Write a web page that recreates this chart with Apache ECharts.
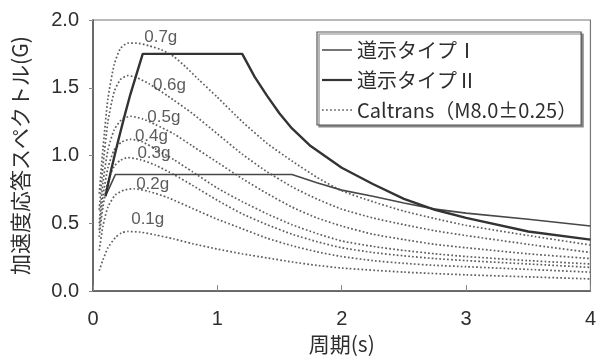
<!DOCTYPE html>
<html>
<head>
<meta charset="utf-8">
<script src="https://cdn.jsdelivr.net/npm/echarts@6/dist/echarts.min.js"></script>
<style>
  html, body { margin: 0; padding: 0; background: #fff; }
  #chart { width: 599px; height: 360px; }
</style>
</head>
<body>
<div id="chart"></div>
<script>
// Acceleration response spectra: 道示 design spectra and Caltrans ARS curves
// Period (s) vs spectral acceleration (G)

const xTicks = [0, 1, 2, 3, 4];
const yTicks = [0.0, 0.5, 1.0, 1.5, 2.0];

const nameTypeI = '道示タイプⅠ';
const nameTypeII = '道示タイプⅡ';
const nameCaltrans = 'Caltrans（M8.0±0.25）';

// 道示 Type I (thin solid)
const typeI = [
  [0.1, 0.70], [0.14, 0.78], [0.18, 0.86], [1.6, 0.86], [1.8, 0.80],
  [2.0, 0.745], [2.25, 0.70], [2.5, 0.65], [2.75, 0.605], [3.0, 0.575],
  [3.5, 0.53], [4.0, 0.48]
];

// 道示 Type II (thick solid)
const typeII = [
  [0.1, 0.70], [0.15, 0.91], [0.2, 1.10], [0.25, 1.28], [0.3, 1.45],
  [0.35, 1.60], [0.4, 1.75], [1.2, 1.75], [1.3, 1.58], [1.4, 1.44],
  [1.5, 1.31], [1.6, 1.20], [1.75, 1.07], [2.0, 0.91], [2.25, 0.79],
  [2.5, 0.68], [2.75, 0.60], [3.0, 0.54], [3.5, 0.44], [4.0, 0.38]
];

// Caltrans ARS curves, one per peak ground acceleration level
const g01 = [[0.05,0.15],[0.08,0.23],[0.12,0.32],[0.18,0.395],[0.23,0.43],[0.28,0.44],[0.38,0.435],[0.5,0.415],[0.65,0.385],[0.8,0.35],[1.0,0.31],[1.2,0.275],[1.4,0.245],[1.6,0.215],[1.8,0.19],[2.0,0.17],[2.5,0.14],[3.0,0.12],[3.5,0.105],[4.0,0.09]];
const g02 = [[0.05,0.30],[0.08,0.48],[0.12,0.62],[0.18,0.71],[0.25,0.745],[0.33,0.755],[0.45,0.735],[0.6,0.69],[0.8,0.61],[1.0,0.53],[1.2,0.46],[1.4,0.39],[1.6,0.335],[1.8,0.29],[2.0,0.255],[2.25,0.225],[2.5,0.205],[2.75,0.19],[3.0,0.18],[3.5,0.16],[4.0,0.14]];
const g03 = [[0.05,0.40],[0.08,0.62],[0.12,0.81],[0.17,0.92],[0.22,0.965],[0.28,0.985],[0.38,0.97],[0.5,0.93],[0.65,0.86],[0.8,0.78],[1.0,0.67],[1.2,0.57],[1.4,0.49],[1.6,0.42],[1.8,0.365],[2.0,0.32],[2.25,0.285],[2.5,0.26],[2.75,0.24],[3.0,0.225],[3.5,0.20],[4.0,0.175]];
const g04 = [[0.05,0.45],[0.08,0.70],[0.12,0.91],[0.17,1.04],[0.23,1.10],[0.3,1.12],[0.4,1.10],[0.5,1.05],[0.65,0.97],[0.8,0.88],[1.0,0.76],[1.2,0.66],[1.4,0.57],[1.6,0.49],[1.8,0.425],[2.0,0.37],[2.25,0.33],[2.5,0.30],[2.75,0.275],[3.0,0.255],[3.5,0.225],[4.0,0.20]];
const g05 = [[0.05,0.50],[0.08,0.80],[0.12,1.04],[0.17,1.19],[0.23,1.265],[0.3,1.29],[0.4,1.27],[0.5,1.23],[0.65,1.16],[0.8,1.07],[1.0,0.95],[1.2,0.83],[1.4,0.72],[1.6,0.62],[1.8,0.54],[2.0,0.48],[2.25,0.42],[2.5,0.38],[2.75,0.345],[3.0,0.32],[3.5,0.275],[4.0,0.24]];
const g06 = [[0.05,0.60],[0.08,0.92],[0.12,1.25],[0.17,1.47],[0.22,1.56],[0.28,1.59],[0.35,1.575],[0.45,1.53],[0.6,1.44],[0.8,1.31],[1.0,1.16],[1.2,1.01],[1.4,0.88],[1.6,0.77],[1.8,0.68],[2.0,0.605],[2.25,0.54],[2.5,0.49],[2.75,0.445],[3.0,0.41],[3.5,0.345],[4.0,0.285]];
const g07 = [[0.05,0.72],[0.08,1.05],[0.12,1.42],[0.17,1.67],[0.22,1.79],[0.28,1.83],[0.35,1.83],[0.45,1.81],[0.55,1.78],[0.65,1.73],[0.75,1.65],[0.85,1.56],[1.0,1.43],[1.2,1.25],[1.4,1.09],[1.6,0.96],[1.8,0.84],[2.0,0.74],[2.25,0.66],[2.5,0.59],[2.75,0.535],[3.0,0.485],[3.5,0.41],[4.0,0.34]];

const caltransCurves = [g01, g02, g03, g04, g05, g06, g07];

// curve labels and where they sit (period, acceleration)
const gLabels = ['0.1g', '0.2g', '0.3g', '0.4g', '0.5g', '0.6g', '0.7g'];
const gLabelT = [0.44, 0.48, 0.49, 0.47, 0.57, 0.615, 0.545];
const gLabelS = [0.53, 0.79, 1.02, 1.14, 1.28, 1.52, 1.87];

const latin = '"Liberation Sans", Arial, sans-serif';
const cjk = '"Noto Sans CJK JP", "Noto Sans", sans-serif';

const dotColor = '#5e5e5e';
const thinColor = '#474747';
const thickColor = '#333';

// legend samples: short solid strokes and a row of dots
const solidIcon = h => 'path://M0,0h30v' + h + 'h-30z';
let dotIconPath = 'path://';
for (let i = 0; i < 8; i++) dotIconPath += 'M' + (i * 4) + ',0h1.7v1.7h-1.7z';

const dotted = {
  type: 'line',
  name: nameCaltrans,
  showSymbol: false,
  symbol: 'none',
  smooth: 0.2,
  lineStyle: { color: dotColor, width: 1.7, type: [1.7, 2.2] },
  itemStyle: { color: dotColor },
  z: 2,
  silent: true
};

const series = caltransCurves.map(d => Object.assign({}, dotted, { data: d }));

series.push({
  type: 'line',
  name: nameTypeI,
  data: typeI,
  symbol: 'none',
  lineStyle: { color: thinColor, width: 1.6 },
  itemStyle: { color: thinColor },
  z: 3
});
series.push({
  type: 'line',
  name: nameTypeII,
  data: typeII,
  symbol: 'none',
  lineStyle: { color: thickColor, width: 2.4 },
  itemStyle: { color: thickColor },
  z: 4
});
series.push({
  type: 'scatter',
  data: gLabels.map((t, i) => ({ value: [gLabelT[i], gLabelS[i]], name: t })),
  symbolSize: 0,
  silent: true,
  z: 5,
  label: {
    show: true,
    position: 'inside',
    formatter: p => p.name,
    fontFamily: latin,
    fontSize: 17,
    color: '#333'
  }
});

const chart = echarts.init(document.getElementById('chart'), null, { renderer: 'canvas' });
chart.setOption({
  animation: false,
  backgroundColor: '#fff',
  grid: {
    left: 93, right: 7, top: 20, bottom: 64,
    show: true, borderColor: '#777', borderWidth: 1.2, backgroundColor: 'transparent'
  },
  legend: {
    data: [
      { name: nameTypeI, icon: solidIcon(1.5) },
      { name: nameTypeII, icon: solidIcon(2.2) },
      { name: nameCaltrans, icon: dotIconPath }
    ],
    orient: 'vertical',
    left: 317, top: 32,
    itemWidth: 30, itemHeight: 14, itemGap: 10,
    padding: [8, 4, 5, 5],
    backgroundColor: '#fff',
    borderColor: '#555', borderWidth: 1.2,
    shadowColor: '#888', shadowOffsetX: 2, shadowOffsetY: 2, shadowBlur: 0,
    selectedMode: false,
    itemStyle: { borderWidth: 0 },
    textStyle: { fontFamily: cjk, fontSize: 20, color: '#2e2e2e', lineHeight: 20 }
  },
  xAxis: {
    type: 'value',
    min: 0, max: 4, interval: 1,
    name: '周期(s)',
    nameLocation: 'middle',
    nameGap: 40,
    nameTextStyle: { fontFamily: cjk, fontSize: 21, color: '#2e2e2e' },
    axisLine: { show: true, lineStyle: { color: '#555', width: 1.5 } },
    axisTick: { show: true, inside: true, length: 6, lineStyle: { color: '#888' } },
    axisLabel: { margin: 18, fontFamily: latin, fontSize: 20, color: '#2e2e2e',
      formatter: v => xTicks.includes(v) ? String(v) : '' },
    splitLine: { show: false }
  },
  yAxis: {
    type: 'value',
    min: 0, max: 2, interval: 0.5,
    name: '加速度応答スペクトル(G)',
    nameLocation: 'middle',
    nameGap: 62,
    nameTextStyle: { fontFamily: cjk, fontSize: 21, color: '#2e2e2e' },
    axisLine: { show: true, lineStyle: { color: '#555', width: 1.5 } },
    axisTick: { show: true, inside: false, length: 4, lineStyle: { color: '#888' } },
    axisLabel: { margin: 14, fontFamily: latin, fontSize: 20, color: '#2e2e2e',
      formatter: v => yTicks.some(t => Math.abs(t - v) < 1e-9) ? v.toFixed(1) : '' },
    splitLine: { show: false }
  },
  series: series
});
</script>
</body>
</html>
